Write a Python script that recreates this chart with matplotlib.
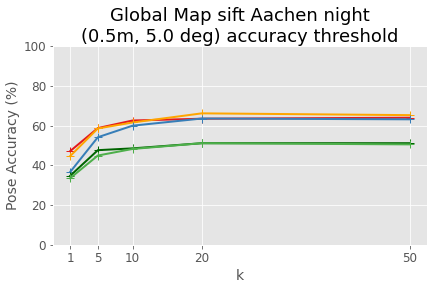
import matplotlib
matplotlib.use("Agg")
import matplotlib.pyplot as plt

plt.style.use("ggplot")

k = [1, 5, 10, 20, 50]
red = [47.2, 58.8, 62.6, 63.5, 64.0]
orange = [44.7, 58.6, 61.6, 66.2, 65.3]
blue = [36.7, 54.2, 60.0, 63.6, 63.2]
darkgreen = [34.8, 47.7, 48.6, 51.2, 51.2]
green = [33.6, 45.0, 48.3, 51.2, 50.6]

fig = plt.figure(figsize=(6, 4), dpi=72)
plt.plot(k, red, color="#e41a1c", marker="+", markersize=8, linewidth=2)
plt.plot(k, orange, color="orange", marker="+", markersize=8, linewidth=2)
plt.plot(k, blue, color="#377eb8", marker="+", markersize=8, linewidth=2)
plt.plot(k, darkgreen, color="darkgreen", marker="+", markersize=8, linewidth=2)
plt.plot(k, green, color="#4daf4a", marker="+", markersize=8, linewidth=2)

plt.title("Global Map sift Aachen night\n(0.5m, 5.0 deg) accuracy threshold",
          fontsize=18, pad=3)
plt.xlabel("k", fontsize=14)
plt.ylabel("Pose Accuracy (%)", fontsize=14)
plt.xticks(k, fontsize=12)
plt.yticks(fontsize=12)
plt.ylim(0, 100)
plt.subplots_adjust(left=0.123, right=0.988, top=0.840, bottom=0.149)
plt.savefig("out.png")
